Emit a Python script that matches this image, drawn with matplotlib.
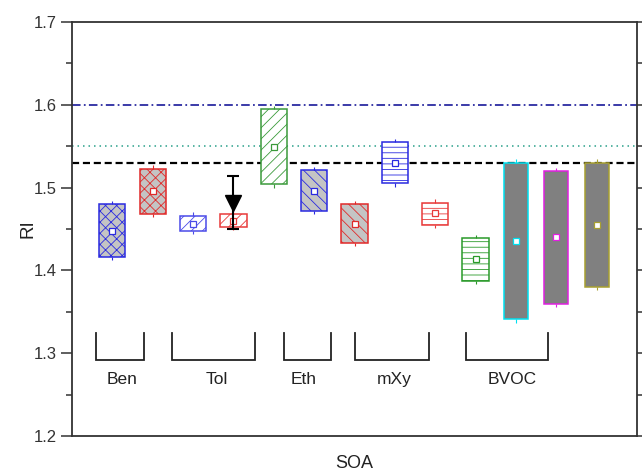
import matplotlib
matplotlib.use("Agg")
import matplotlib.pyplot as plt
from matplotlib.ticker import MultipleLocator, FormatStrFormatter

plt.rcParams['font.family'] = ['Liberation Sans', 'DejaVu Sans']
plt.rcParams['hatch.linewidth'] = 0.6

# ---- data ----
positions = [1, 2, 3, 4, 5, 6, 7, 8, 9, 10, 11, 12, 13]
box_low = [1.416, 1.468, 1.448, 1.453, 1.504, 1.472, 1.433, 1.505, 1.455, 1.387, 1.341, 1.360, 1.380]
box_high = [1.480, 1.523, 1.466, 1.468, 1.595, 1.521, 1.480, 1.555, 1.482, 1.439, 1.530, 1.520, 1.530]
box_mean = [1.448, 1.496, 1.456, 1.460, 1.549, 1.496, 1.456, 1.530, 1.469, 1.414, 1.435, 1.440, 1.455]
edge_colors = ['#2a2ae0', '#e02a2a', '#4a4ae8', '#e83a3a', '#3a9a3a', '#2a2ae0', '#e02a2a',
               '#2a2ae0', '#e83a3a', '#2a9a2a', '#00e0f0', '#e020e0', '#a8a030']
fill_colors = ['#c4c4c4', '#c4c4c4', 'white', 'white', 'white', '#c4c4c4', '#c4c4c4',
               'white', 'white', 'white', '#808080', '#808080', '#808080']
hatches = ['xxx', 'xxx', '///', '///', '///', '\\\\\\', '\\\\\\', '---', '---', '---', None, None, None]

# single measurement with error bar (Tol)
point_x = [4]
point_y = [1.481]
point_err_low = [0.031]
point_err_high = [0.033]

# reference lines
ref_values = [1.60, 1.55, 1.53]

# group brackets
group_names = ['Ben', 'Tol', 'Eth', 'mXy', 'BVOC']
group_start = [0.60, 2.49, 5.25, 7.00, 9.76]
group_end = [1.78, 4.53, 6.42, 8.85, 11.80]
group_label_x = [1.25, 3.59, 5.75, 7.98, 10.90]
bracket_top = 1.324
bracket_bottom = 1.292
label_y = 1.268

# ---- figure ----
fig = plt.figure(figsize=(6.42, 4.72), dpi=100)
ax = fig.add_axes([72/642, 1-436/472, 565/642, 414/472])

widths = [0.65]*10 + [0.6]*3
heights = [h - l for h, l in zip(box_high, box_low)]
bars = ax.bar(positions, heights, bottom=box_low, width=widths, color=fill_colors,
              edgecolor=edge_colors, linewidth=1.1, zorder=3)
for b, h in zip(bars, hatches):
    if h:
        b.set_hatch(h)

# whisker stubs
for x, lo, hi, c in zip(positions, box_low, box_high, edge_colors):
    ax.vlines(x, hi, hi + 0.004, color=c, lw=0.8, zorder=3)
    ax.vlines(x, lo - 0.004, lo, color=c, lw=0.8, zorder=3)

# means
for x, m, c in zip(positions, box_mean, edge_colors):
    ax.plot(x, m, marker='s', ms=4, mfc='white', mec=c, mew=0.9, ls='none', zorder=5)

# point with error bar
ax.errorbar(point_x, point_y, yerr=[point_err_low, point_err_high], fmt='v', color='black',
            ms=11.5, capsize=4, elinewidth=1.5, capthick=1.5, zorder=6)

# reference lines
ax.axhline(ref_values[0], color='#3a3aa8', lw=1.4, dashes=(4.4, 1.7, 0.9, 1.7), zorder=2)
ax.axhline(ref_values[1], color='#2aa08a', lw=1.1, dashes=(1, 2.6), zorder=2)
ax.axhline(ref_values[2], color='black', lw=1.6, dashes=(3.2, 1.7), zorder=2)

# group brackets
for s, e, name, lx in zip(group_start, group_end, group_names, group_label_x):
    ax.plot([s, s, e, e], [bracket_top, bracket_bottom, bracket_bottom, bracket_top],
            color='#222222', lw=1.3, solid_joinstyle='miter', zorder=3)
    ax.text(lx, label_y, name, ha='center', va='center', fontsize=12.5, color='#222222')

ax.set_xlim(0, 14)
ax.set_ylim(1.2, 1.7)

# axes styling
ax.set_xticks([])
ax.yaxis.set_major_locator(MultipleLocator(0.1))
ax.yaxis.set_minor_locator(MultipleLocator(0.05))
ax.yaxis.set_major_formatter(FormatStrFormatter('%.1f'))
ax.tick_params(axis='y', which='both', direction='out', left=True, right=True,
               labelleft=True, labelright=False, width=1.1, color='#333333')
ax.tick_params(axis='y', which='major', length=8, labelsize=12, labelcolor='#333333', pad=3)
ax.tick_params(axis='y', which='minor', length=4)
for sp in ax.spines.values():
    sp.set_linewidth(1.3)
    sp.set_color('#333333')

ax.set_ylabel('RI', fontsize=13.5, color='#222222')
ax.yaxis.set_label_coords(-0.062, 0.5)
ax.set_xlabel('SOA', fontsize=13, color='#222222', labelpad=14)

fig.savefig('out.png', dpi=100)
